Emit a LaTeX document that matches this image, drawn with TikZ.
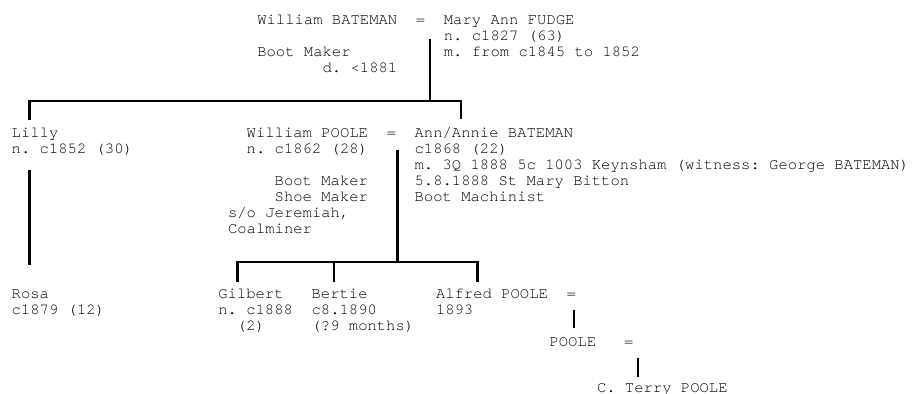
\documentclass[tikz,border=0pt]{standalone}
\usepackage{fontspec}
\setmainfont{TeX Gyre Cursor}
\begin{document}
\frenchspacing
\begin{tikzpicture}[x=1pt,y=-1pt,
  txt/.style={inner sep=0pt, outer sep=0pt, anchor=base west, font=\fontsize{15.55}{16}\selectfont\frenchspacing},
  conn/.style={line width=2.6pt, draw=black}]
\useasboundingbox (0,0) rectangle (914,394);
\def\cw{9.33}
\def\xa{257.3}
\def\xb{246.7}
% ---- generation 1
\node[txt] (wbat)   at (\xa,24) {William BATEMAN};
\node[txt] (eq1)    at ({\xa+17*\cw},24) {=};
\node[txt] (mary)   at ({\xa+20*\cw},24) {Mary Ann FUDGE};
\node[txt] (maryb)  at ({\xa+20*\cw},40) {n. c1827 (63)};
\node[txt] (wbocc)  at (\xa,56) {Boot Maker};
\node[txt] (marym)  at ({\xa+20*\cw},56) {m. from c1845 to 1852};
\node[txt] (wbd)    at ({\xa+7*\cw},72) {d. <1881};
% ---- generation 2
\node[txt] (lilly)  at (11.7,137) {Lilly};
\node[txt] (lillyb) at (11.7,153) {n. c1852 (30)};
\node[txt] (wpoole) at (\xb,137) {William POOLE};
\node[txt] (eq2)    at ({\xb+15*\cw},137) {=};
\node[txt] (ann)    at ({\xb+18*\cw},137) {Ann/Annie BATEMAN};
\node[txt] (wpb)    at (\xb,153) {n. c1862 (28)};
\node[txt] (annb)   at ({\xb+18*\cw},153) {c1868 (22)};
\node[txt] (annm)   at ({\xb+18*\cw},169) {m. 3Q 1888 5c 1003 Keynsham (witness: George BATEMAN)};
\node[txt] (wpo1)   at ({\xb+3*\cw},185) {Boot Maker};
\node[txt] (annc)   at ({\xb+18*\cw},185) {5.8.1888 St Mary Bitton};
\node[txt] (wpo2)   at ({\xb+3*\cw},201) {Shoe Maker};
\node[txt] (anno)   at ({\xb+18*\cw},201) {Boot Machinist};
\node[txt] (wpf1)   at ({\xb-2*\cw},217) {s/o Jeremiah,};
\node[txt] (wpf2)   at ({\xb-2*\cw},233) {Coalminer};
% ---- generation 3
\node[txt] (rosa)   at (11.7,298) {Rosa};
\node[txt] (rosab)  at (11.7,314) {c1879 (12)};
\node[txt] (gil)    at (218.3,298) {Gilbert};
\node[txt] (gilb)   at (218.3,314) {n. c1888};
\node[txt] (gilc)   at ({218.3+2*\cw},330) {(2)};
\node[txt] (bert)   at ({218.3+10*\cw},298) {Bertie};
\node[txt] (bertb)  at ({218.3+10*\cw},314) {c8.1890};
\node[txt] (bertc)  at ({218.3+10*\cw},330) {(?9 months)};
\node[txt] (alf)    at (436,298) {Alfred POOLE};
\node[txt] (eq3)    at ({436+14*\cw},298) {=};
\node[txt] (alfb)   at (436,314) {1893};
% ---- generation 4, 5
\node[txt] (poole)  at (549.5,346) {POOLE};
\node[txt] (eq4)    at ({549.5+8*\cw},346) {=};
\node[txt] (terry)  at (597,392.5) {C. Terry POOLE};
% ---- connector points
\coordinate (m1)  at (430,38.5);
\coordinate (b1)  at (430,101);
\coordinate (b1l) at (29.5,101);
\coordinate (b1r) at (461,101);
\coordinate (lillytop) at (29.5,120);
\coordinate (anntop)   at (461,119);
\coordinate (lillyd1)  at (29.5,170);
\coordinate (lillyd2)  at (29.5,265);
\coordinate (m2)  at (397.3,150);
\coordinate (b2)  at (397.3,262);
\coordinate (b2l) at (237.5,262);
\coordinate (b2r) at (477.3,262);
\coordinate (giltop)  at (237.5,281.5);
\coordinate (b2m)     at (334,262);
\coordinate (berttop) at (334,281.5);
\coordinate (alftop)  at (477.3,281.5);
\coordinate (m3)  at (574,310);
\coordinate (pooletop) at (574,328);
\coordinate (m4)  at (638,358);
\coordinate (terrytop) at (638,377);
% ---- connectors
\draw[conn] (m1) -- (b1);
\draw[conn] (lillytop) -- (b1l) -- (b1r) -- (anntop);
\draw[conn] (lillyd1) -- (lillyd2);
\draw[conn] (m2) -- (b2);
\draw[conn] (giltop) -- (b2l) -- (b2r) -- (alftop);
\draw[conn] (b2m) -- (berttop);
\draw[conn] (m3) -- (pooletop);
\draw[conn] (m4) -- (terrytop);
\end{tikzpicture}
\end{document}
